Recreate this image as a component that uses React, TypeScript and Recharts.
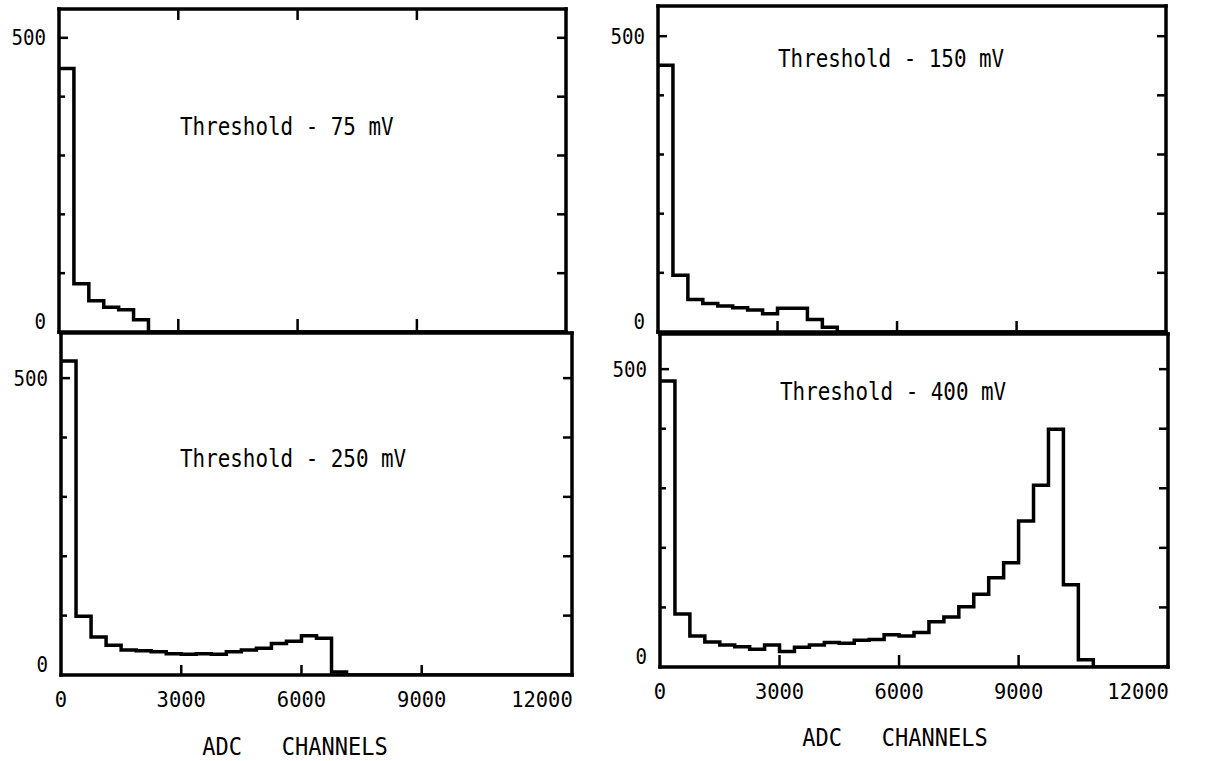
import React from 'react';
import { ComposedChart, Line, XAxis, YAxis } from 'recharts';

// histogram bins are 375 ADC channels wide
const BIN_WIDTH = 375;
const X_MAX = 12750;

const xTicks = [0, 3000, 6000, 9000, 12000];
const innerXTicks = [3000, 6000, 9000];
const yTicks = [0, 100, 200, 300, 400, 500];
const yRightTicks = [100, 200, 300, 400, 500];
const yLabelTicks = [0, 500];

// counts per bin
const counts75 = [448, 82, 53, 42, 38, 21];
const counts150 = [451, 96, 55, 48, 44, 41, 37, 31, 40, 40, 21, 8];
const counts250 = [529, 99, 64, 50, 42, 41, 39, 36, 35, 36, 35, 39, 42, 45, 53, 57, 66, 62, 5];
const counts400 = [
  480, 89, 52, 42, 37, 34, 30, 37, 26, 33, 37, 41, 40, 45, 46, 54, 52, 58, 76, 84,
  101, 122, 150, 175, 245, 305, 399, 138, 12,
];

const FONT = '"DejaVu Sans Mono", monospace';
const frameLine = { stroke: '#000', strokeWidth: 3.5, strokeLinecap: 'square' as const };

function toSteps(counts: number[]) {
  const pts = counts.map((c, i) => ({ x: i * BIN_WIDTH, y: c }));
  pts.push({ x: counts.length * BIN_WIDTH, y: 0 });
  pts.push({ x: X_MAX, y: 0 });
  return pts;
}

type Frame = { left: number; top: number; right: number; bottom: number };

type PanelProps = {
  frame: Frame;
  counts: number[];
  yMax: number;
  xLabels?: boolean;
  topTicks?: boolean;
  bottomTickLen: number;
};

function Panel({ frame, counts, yMax, xLabels, topTicks, bottomTickLen }: PanelProps) {
  const padL = 60, padR = 40, padT = 8, padB = 45;
  const w = frame.right - frame.left + padL + padR;
  const h = frame.bottom - frame.top + padT + padB;

  const bottomTick = (p: any) => {
    const v = p.payload.value;
    return (
      <g key={`b${v}`}>
        {innerXTicks.includes(v) && (
          <line x1={p.x} y1={p.y} x2={p.x} y2={p.y - bottomTickLen} stroke="#000" strokeWidth={2.5} />
        )}
        {xLabels && (
          <text
            transform={`translate(${p.x},${p.y + 32}) scale(0.93,1)`}
            textAnchor="middle"
            fontFamily={FONT}
            fontSize={22}
            fill="#000"
          >
            {v}
          </text>
        )}
      </g>
    );
  };

  const topTick = (p: any) => (
    <line key={`t${p.payload.value}`} x1={p.x} y1={p.y} x2={p.x} y2={p.y + 11} stroke="#000" strokeWidth={2.5} />
  );

  const leftTick = (p: any) => {
    const v = p.payload.value;
    const showLabel = yLabelTicks.includes(v);
    return (
      <g key={`l${v}`}>
        {v > 0 && <line x1={p.x} y1={p.y} x2={p.x + (v === 500 ? 9 : 6)} y2={p.y} stroke="#000" strokeWidth={2.5} />}
        {showLabel && (
          <text
            transform={`translate(${p.x - 13},${v === 0 ? p.y - 3 : p.y + 7.5}) scale(0.91,1)`}
            textAnchor="end"
            fontFamily={FONT}
            fontSize={21}
            fill="#000"
          >
            {v}
          </text>
        )}
      </g>
    );
  };

  const rightTick = (p: any) => (
    <line key={`r${p.payload.value}`} x1={p.x} y1={p.y} x2={p.x - 9} y2={p.y} stroke="#000" strokeWidth={2.5} />
  );

  // axes need a non-zero size to be drawn, so give them 1px and take it off the margins
  return (
    <div style={{ position: 'absolute', left: frame.left - padL, top: frame.top - padT }}>
      <ComposedChart
        width={w}
        height={h}
        data={toSteps(counts)}
        margin={{ left: padL - 1, right: padR - 1, top: padT - 1, bottom: padB - 1 }}
      >
        <XAxis
          xAxisId="b"
          dataKey="x"
          type="number"
          orientation="bottom"
          domain={[0, X_MAX]}
          ticks={xLabels ? xTicks : innerXTicks}
          interval={0}
          height={1}
          tickSize={0}
          tickMargin={0}
          tickLine={false}
          axisLine={frameLine}
          tick={bottomTick}
          allowDataOverflow
        />
        <XAxis
          xAxisId="t"
          dataKey="x"
          type="number"
          orientation="top"
          domain={[0, X_MAX]}
          ticks={innerXTicks}
          interval={0}
          height={1}
          tickSize={0}
          tickMargin={0}
          tickLine={false}
          axisLine={frameLine}
          tick={topTicks ? topTick : false}
          allowDataOverflow
        />
        <YAxis
          yAxisId="l"
          type="number"
          domain={[0, yMax]}
          ticks={yTicks}
          interval={0}
          width={1}
          tickSize={0}
          tickMargin={0}
          tickLine={false}
          axisLine={frameLine}
          tick={leftTick}
          allowDataOverflow
        />
        <YAxis
          yAxisId="r"
          orientation="right"
          type="number"
          domain={[0, yMax]}
          ticks={yRightTicks}
          interval={0}
          width={1}
          tickSize={0}
          tickMargin={0}
          tickLine={false}
          axisLine={frameLine}
          tick={rightTick}
          allowDataOverflow
        />
        <Line
          xAxisId="b"
          yAxisId="l"
          dataKey="y"
          type="stepAfter"
          stroke="#000"
          strokeWidth={3.5}
          strokeLinejoin="miter"
          dot={false}
          activeDot={false}
          isAnimationActive={false}
        />
      </ComposedChart>
    </div>
  );
}

const textStyle = { fontFamily: FONT, fill: '#000' };

export default function App() {
  return (
    <div
      style={{
        position: 'absolute',
        left: 0,
        top: 0,
        width: 1206,
        height: 761,
        background: '#fff',
        overflow: 'hidden',
      }}
    >
      <Panel frame={{ left: 59, top: 9, right: 566, bottom: 332 }} counts={counts75} yMax={549} topTicks bottomTickLen={13} />
      <Panel frame={{ left: 658, top: 6, right: 1166, bottom: 332 }} counts={counts150} yMax={551} bottomTickLen={11} />
      <Panel frame={{ left: 61, top: 333, right: 572, bottom: 675 }} counts={counts250} yMax={576} xLabels bottomTickLen={10} />
      <Panel frame={{ left: 660, top: 334, right: 1168, bottom: 667 }} counts={counts400} yMax={559} xLabels bottomTickLen={12} />

      <svg width={1206} height={761} style={{ position: 'absolute', left: 0, top: 0, pointerEvents: 'none' }}>
        <text transform="translate(180,135) scale(0.87,1)" fontSize={24} style={textStyle}>Threshold - 75 mV</text>
        <text transform="translate(778,67) scale(0.87,1)" fontSize={24} style={textStyle}>Threshold - 150 mV</text>
        <text transform="translate(180,467) scale(0.87,1)" fontSize={24} style={textStyle}>Threshold - 250 mV</text>
        <text transform="translate(780,400) scale(0.87,1)" fontSize={24} style={textStyle}>Threshold - 400 mV</text>
        <text transform="translate(295,755) scale(0.88,1)" textAnchor="middle" fontSize={25} style={{ ...textStyle, whiteSpace: 'pre' }}>ADC   CHANNELS</text>
        <text transform="translate(895,746) scale(0.88,1)" textAnchor="middle" fontSize={25} style={{ ...textStyle, whiteSpace: 'pre' }}>ADC   CHANNELS</text>
      </svg>
    </div>
  );
}
